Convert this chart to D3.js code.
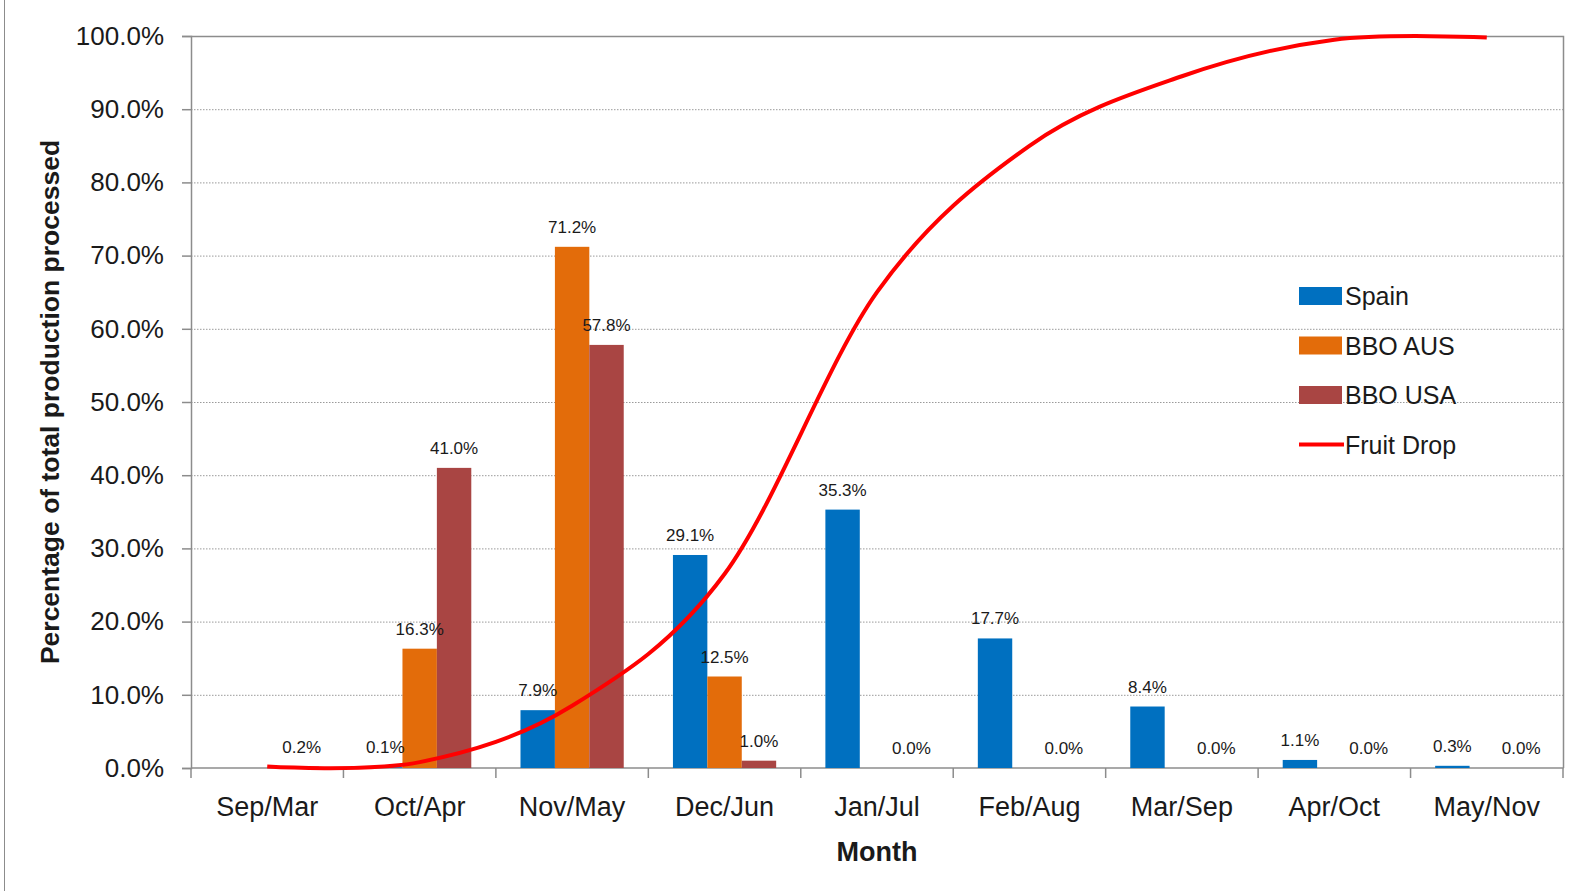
<!DOCTYPE html>
<html>
<head>
<meta charset="utf-8">
<script src="https://cdn.jsdelivr.net/npm/d3@7"></script>
<style>
  body { margin: 0; background: #fff; }
  text { font-family: "Liberation Sans", Arial, sans-serif; fill: #1a1a1a; }
</style>
</head>
<body>
<script>
// Data
const months = ['Sep/Mar', 'Oct/Apr', 'Nov/May', 'Dec/Jun', 'Jan/Jul', 'Feb/Aug', 'Mar/Sep', 'Apr/Oct', 'May/Nov'];
const seriesNames = ['Spain', 'BBO AUS', 'BBO USA'];
const spain = [null, 0.1, 7.9, 29.1, 35.3, 17.7, 8.4, 1.1, 0.3];
const bboAus = [null, 16.3, 71.2, 12.5, null, null, null, null, null];
const bboUsa = [0.2, 41.0, 57.8, 1.0, 0.0, 0.0, 0.0, 0.0, 0.0];
const fruitDrop = [0.2, 0.8, 8.5, 26.5, 65.0, 85.0, 94.5, 99.5, 99.8];
const yTicks = [0, 10, 20, 30, 40, 50, 60, 70, 80, 90, 100];

// Dimensions
const width = 1579;
const height = 891;
const margin = { top: 36, right: 16, bottom: 123, left: 191 };
const colors = { 'Spain': '#0070C0', 'BBO AUS': '#E36C0A', 'BBO USA': '#A94543' };

const svg = d3.select('body')
    .append('svg')
    .attr('width', width)
    .attr('height', height);

// Outer chart frame (only the left edge is visible in the crop)
svg.append('rect')
    .attr('x', 4.5).attr('y', -10)
    .attr('width', width).attr('height', height + 20)
    .attr('fill', 'none')
    .attr('stroke', '#8c8c8c');

const x0 = d3.scaleBand()
    .domain(months)
    .range([margin.left, width - margin.right])
    .paddingInner(0).paddingOuter(0);

const x1 = d3.scaleBand()
    .domain(seriesNames)
    .range([0, x0.bandwidth()])
    .paddingInner(0).paddingOuter(0.715);

const y = d3.scaleLinear()
    .domain([0, 100])
    .range([height - margin.bottom, margin.top]);

// Gridlines
svg.append('g')
    .selectAll('line')
    .data(yTicks.filter(d => d > 0 && d < 100))
    .enter()
    .append('line')
    .attr('x1', margin.left).attr('x2', width - margin.right)
    .attr('y1', d => y(d) + 0.5).attr('y2', d => y(d) + 0.5)
    .attr('stroke', '#9a9a9a')
    .attr('stroke-dasharray', '1.5,1.5');

// Plot border (top and right)
svg.append('path')
    .attr('d', `M${margin.left},${y(100) + 0.5}H${width - margin.right + 0.5}V${y(0)}`)
    .attr('fill', 'none')
    .attr('stroke', '#8c8c8c')
    .attr('stroke-width', 1.5);

// Y axis
const yAxis = svg.append('g')
    .attr('transform', `translate(${margin.left},0)`)
    .call(d3.axisLeft(y).tickValues(yTicks).tickSize(9).tickPadding(18)
        .tickFormat(d => d.toFixed(1) + '%'));
yAxis.selectAll('.domain, .tick line').attr('stroke', '#8c8c8c').attr('stroke-width', 1.5);
yAxis.selectAll('text')
    .style('font-family', '"Liberation Sans", Arial, sans-serif')
    .style('font-size', '26px')
    .attr('fill', '#1a1a1a');

// X axis (ticks at category boundaries)
const xg = svg.append('g').attr('transform', `translate(0,${y(0)})`);
xg.append('line')
    .attr('x1', margin.left).attr('x2', width - margin.right + 0.5)
    .attr('y1', 0).attr('y2', 0)
    .attr('stroke', '#8c8c8c').attr('stroke-width', 1.5);
xg.selectAll('.bound')
    .data(months.concat(['end']))
    .enter()
    .append('line')
    .attr('x1', (d, i) => margin.left + i * x0.step())
    .attr('x2', (d, i) => margin.left + i * x0.step())
    .attr('y1', 0).attr('y2', 10)
    .attr('stroke', '#8c8c8c').attr('stroke-width', 1.5);
xg.selectAll('.lbl')
    .data(months)
    .enter()
    .append('text')
    .attr('x', d => x0(d) + x0.bandwidth() / 2)
    .attr('y', 48)
    .attr('text-anchor', 'middle')
    .style('font-size', '27px')
    .text(d => d);

// Bars
const barData = [];
months.forEach((m, i) => {
    [spain, bboAus, bboUsa].forEach((arr, j) => {
        if (arr[i] !== null) barData.push({ month: m, series: seriesNames[j], value: arr[i] });
    });
});

svg.append('g')
    .selectAll('rect')
    .data(barData)
    .enter()
    .append('rect')
    .attr('x', d => x0(d.month) + x1(d.series))
    .attr('y', d => y(d.value))
    .attr('width', x1.bandwidth())
    .attr('height', d => y(0) - y(d.value))
    .attr('fill', d => colors[d.series]);

// Fruit drop line (smoothed)
const line = d3.line()
    .x((d, i) => x0(months[i]) + x0.bandwidth() / 2)
    .y(d => y(d))
    .curve(d3.curveCatmullRom.alpha(0));

svg.append('path')
    .datum(fruitDrop)
    .attr('d', line)
    .attr('fill', 'none')
    .attr('stroke', '#FF0000')
    .attr('stroke-width', 4);

// Bar labels
svg.append('g')
    .selectAll('text')
    .data(barData)
    .enter()
    .append('text')
    .attr('x', d => x0(d.month) + x1(d.series) + x1.bandwidth() / 2)
    .attr('y', d => y(d.value) - 14)
    .attr('text-anchor', 'middle')
    .style('font-size', '17px')
    .text(d => d.value.toFixed(1) + '%');

// Axis titles
svg.append('text')
    .attr('x', (margin.left + width - margin.right) / 2)
    .attr('y', 861)
    .attr('text-anchor', 'middle')
    .style('font-size', '27px')
    .style('font-weight', 'bold')
    .text('Month');

svg.append('text')
    .attr('transform', `translate(59,${(margin.top + y(0)) / 2}) rotate(-90)`)
    .attr('text-anchor', 'middle')
    .style('font-size', '26.5px')
    .style('font-weight', 'bold')
    .text('Percentage of total production processed');

// Legend
const legendItems = seriesNames.concat(['Fruit Drop']);
const legend = svg.append('g')
    .selectAll('g')
    .data(legendItems)
    .enter()
    .append('g')
    .attr('transform', (d, i) => `translate(1299,${296 + i * 49.5})`);

legend.filter(d => d !== 'Fruit Drop')
    .append('rect')
    .attr('x', 0).attr('y', -9)
    .attr('width', 43).attr('height', 18)
    .attr('fill', d => colors[d]);

legend.filter(d => d === 'Fruit Drop')
    .append('line')
    .attr('x1', 0).attr('x2', 45)
    .attr('y1', 0).attr('y2', 0)
    .attr('stroke', '#FF0000')
    .attr('stroke-width', 4);

legend.append('text')
    .attr('x', 46)
    .attr('y', 9)
    .style('font-size', '25px')
    .text(d => d);
</script>
</body>
</html>
